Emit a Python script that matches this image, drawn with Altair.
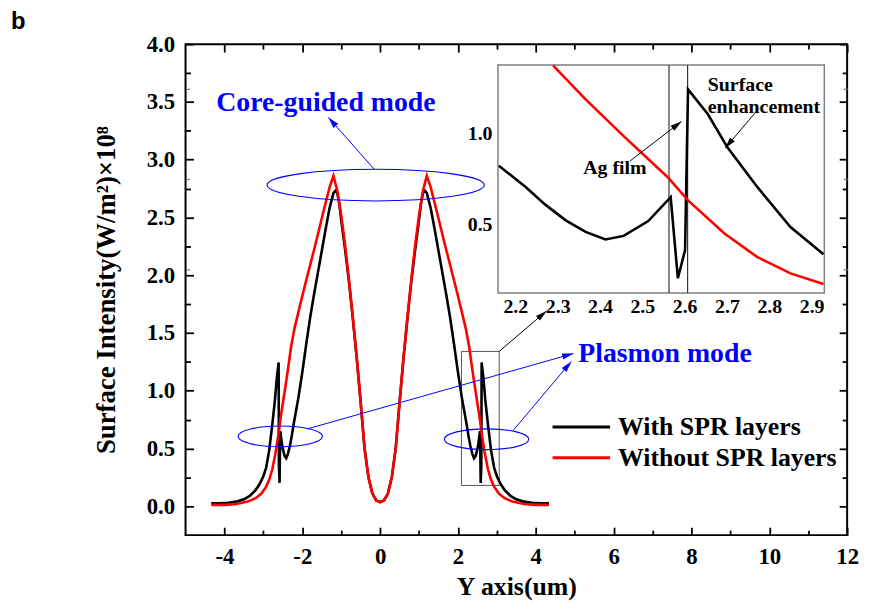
import math
import altair as alt
import pandas as pd

# ---------------- data ----------------
SERIES = ["With SPR layers", "Without SPR layers"]
COLORS = ["#000000", "#ff0000"]

WITH_X = [-4.34, -4.1, -3.9, -3.7, -3.5, -3.35, -3.2, -3.1, -3.0, -2.928, -2.85, -2.772,
          -2.701, -2.655, -2.608, -2.601, -2.584, -2.567, -2.514, -2.456, -2.413, -2.366,
          -2.319, -2.27, -2.225, -2.161, -2.1, -2.05, -2.0, -1.9, -1.8, -1.7, -1.6, -1.5,
          -1.4, -1.3, -1.2, -1.15, -1.1, -1.05, -1.0, -0.9, -0.8, -0.7, -0.6, -0.5, -0.4,
          -0.3, -0.2, -0.1,
          0.0, 0.1, 0.2, 0.3, 0.4, 0.5, 0.6, 0.7, 0.8, 0.9, 1.0, 1.05, 1.1, 1.15, 1.2, 1.3,
          1.4, 1.5, 1.6, 1.7, 1.8, 1.9, 2.0, 2.05, 2.1, 2.161, 2.225, 2.27, 2.319, 2.366,
          2.413, 2.456, 2.514, 2.567, 2.584, 2.601, 2.608, 2.655, 2.701, 2.772, 2.85, 2.928,
          3.0, 3.1, 3.2, 3.35, 3.5, 3.7, 3.9, 4.1, 4.34]
WITH_Y = [0.025, 0.025, 0.03, 0.04, 0.06, 0.09, 0.14, 0.19, 0.26, 0.335, 0.485, 0.705,
          0.925, 1.108, 1.245, 0.357, 0.202, 0.65, 0.518, 0.436, 0.416, 0.458,
          0.522, 0.61, 0.705, 0.824, 0.94, 1.05, 1.16, 1.40, 1.63, 1.83, 2.02, 2.21,
          2.40, 2.58, 2.71, 2.73, 2.71, 2.62, 2.48, 2.22, 1.94, 1.62, 1.28, 0.9, 0.5,
          0.25, 0.11, 0.05,
          0.035, 0.05, 0.11, 0.25, 0.5, 0.9, 1.28, 1.62, 1.94, 2.22, 2.48, 2.62, 2.71, 2.73, 2.71, 2.58,
          2.40, 2.21, 2.02, 1.83, 1.63, 1.40, 1.16, 1.05, 0.94, 0.824, 0.705, 0.61, 0.522, 0.458,
          0.416, 0.436, 0.518, 0.65, 0.202, 0.357, 1.245, 1.108, 0.925, 0.705, 0.485, 0.335,
          0.26, 0.19, 0.14, 0.09, 0.06, 0.04, 0.03, 0.025, 0.025]

WITHOUT_X = [-4.34, -4.0, -3.7, -3.4, -3.2, -3.05, -2.928, -2.85, -2.771, -2.694, -2.608,
             -2.56, -2.459, -2.366, -2.289, -2.2, -2.1, -2.0, -1.85, -1.66, -1.45, -1.3,
             -1.2, -1.1, -1.0, -0.9, -0.8, -0.7, -0.6, -0.5, -0.4, -0.3, -0.2, -0.1,
             0.0, 0.1, 0.2, 0.3, 0.4, 0.5, 0.6, 0.7, 0.8, 0.9, 1.0, 1.1, 1.2, 1.3, 1.45,
             1.66, 1.85, 2.0, 2.1, 2.2, 2.289, 2.366, 2.459, 2.56, 2.608, 2.694, 2.771,
             2.85, 2.928, 3.05, 3.2, 3.4, 3.7, 4.0, 4.34]
WITHOUT_Y = [0.012, 0.012, 0.02, 0.04, 0.07, 0.11, 0.17, 0.229, 0.32, 0.449, 0.632,
             0.76, 0.98, 1.19, 1.378, 1.54, 1.68, 1.82, 2.02, 2.27, 2.56, 2.76,
             2.86, 2.73, 2.52, 2.26, 1.96, 1.63, 1.28, 0.9, 0.5, 0.25, 0.11, 0.05,
             0.035, 0.05, 0.11, 0.25, 0.5, 0.9, 1.28, 1.63, 1.96, 2.26, 2.52, 2.73, 2.86, 2.76, 2.56,
             2.27, 2.02, 1.82, 1.68, 1.54, 1.378, 1.19, 0.98, 0.76, 0.632, 0.449, 0.32,
             0.229, 0.17, 0.11, 0.07, 0.04, 0.02, 0.012, 0.012]

# axis ticks
XMAJ = [-4, -2, 0, 2, 4, 6, 8, 10, 12]
XMIN = [-3, -1, 1, 3, 5, 7, 9, 11]
YMAJ = [0.0, 0.5, 1.0, 1.5, 2.0, 2.5, 3.0, 3.5, 4.0]
YMIN = [0.25, 0.75, 1.25, 1.75, 2.25, 2.75, 3.25, 3.75]
IXMAJ = [2.2, 2.3, 2.4, 2.5, 2.6, 2.7, 2.8, 2.9]
IYMAJ = [0.5, 1.0]
IYMIN = [0.25, 0.75, 1.25]

# inset film boundaries
FILM_X = [2.563, 2.607]

# annotations (main-plot data coordinates)
ANN_BLUE_TEXT = ["Core-guided mode", "Plasmon mode"]
ANN_BLUE_X = [-4.21, 5.09]
ANN_BLUE_Y = [3.486, 1.314]
ANN_BLACK_TEXT = ["Ag film", "Surface", "enhancement"]
ANN_BLACK_X = [5.22, 8.42, 8.42]
ANN_BLACK_Y = [2.928, 3.649, 3.452]

ARROW_TAIL_X = [-0.157, -1.865, 3.411, 3.054, 6.418, 9.732]
ARROW_TAIL_Y = [2.919, 0.670, 0.653, 1.339, 2.988, 3.443]
ARROW_HEAD_X = [-1.33, 4.966, 4.915, 4.277, 7.744, 8.865]
ARROW_HEAD_Y = [3.366, 1.322, 1.254, 1.691, 3.331, 3.10]
ARROW_COLOR = ["#0000ff", "#0000ff", "#0000ff", "#000000", "#000000", "#000000"]

ELL_CORE = (-0.115, 2.78)
ELL_PLASMON_X = [-2.566, 2.735]
ELL_PLASMON_Y = [0.605, 0.580]

ZOOM_BOX = (2.09, 3.06, 0.18, 1.34)

# ---------------- geometry / scales ----------------
W, H = 667, 495
XD = [-5, 12]
YD = [-0.25, 4.0]
IXD = [2.159, 2.93]
IYD = [0.12, 1.38]
IXR = [315, 644]
IYR = [251, 21]

SERIF = "Liberation Serif"
BLUE = "#0000ff"


def px(x):
    return (x - XD[0]) / (XD[1] - XD[0]) * W


def py(y):
    return (YD[1] - y) / (YD[1] - YD[0]) * H


sx = alt.Scale(domain=XD, nice=False, zero=False)
sy = alt.Scale(domain=YD, nice=False, zero=False)
isx = alt.Scale(domain=IXD, range=IXR, nice=False, zero=False)
isy = alt.Scale(domain=IYD, range=IYR, nice=False, zero=False)


def tick_axis(values, size, offset, orient, width=1.8, color="black"):
    return alt.Axis(values=values, tickSize=size, offset=offset, orient=orient,
                    domain=False, labels=False, grid=False, title=None,
                    tickWidth=width, tickColor=color)


# ---------------- dataframes ----------------
df_with = pd.DataFrame({"x": WITH_X, "y": WITH_Y})
df_without = pd.DataFrame({"x": WITHOUT_X, "y": WITHOUT_Y})

# ---------------- main layers ----------------
black_main = alt.Chart(df_with).mark_line(color="black", strokeWidth=2.6).encode(
    x=alt.X("x:Q", scale=sx, axis=alt.Axis(
        values=XMAJ, tickSize=8, offset=-8, orient="bottom", domain=False, grid=False,
        tickWidth=1.8, tickColor="black", labelFont=SERIF, labelFontSize=23,
        labelFontWeight="bold", labelColor="black", labelPadding=11, labelFlush=False,
        labelExpr="'' + datum.value",
        title="Y axis(um)", titleFont=SERIF, titleFontSize=26, titleFontWeight="bold",
        titleColor="black", titlePadding=5)),
    y=alt.Y("y:Q", scale=sy, axis=alt.Axis(
        values=YMAJ, tickSize=8, offset=-8, orient="left", domain=False, grid=False,
        tickWidth=1.8, tickColor="black", labelFont=SERIF, labelFontSize=23,
        labelFontWeight="bold", labelColor="black", labelPadding=11, format=".1f",
        title="Surface Intensity(W/m²)×10⁸", titleFont=SERIF, titleFontSize=27,
        titleFontWeight="bold", titleColor="black", titlePadding=26)),
)

red_main = alt.Chart(df_without).mark_line(color="#ff0000", strokeWidth=2.6).encode(
    x=alt.X("x:Q", scale=sx, axis=None),
    y=alt.Y("y:Q", scale=sy, axis=None),
)

# zoom box in main plot (carries minor bottom/left ticks)
box_df = pd.DataFrame({"x": [ZOOM_BOX[0]], "x2": [ZOOM_BOX[1]],
                       "y": [ZOOM_BOX[2]], "y2": [ZOOM_BOX[3]]})
zoom_box = alt.Chart(box_df).mark_rect(fillOpacity=0, stroke="#555555", strokeWidth=1).encode(
    x=alt.X("x:Q", scale=sx, axis=tick_axis(XMIN, 5, -5, "bottom")),
    x2="x2:Q",
    y=alt.Y("y:Q", scale=sy, axis=tick_axis(YMIN, 5, -5, "left")),
    y2="y2:Q",
)

# arrows
arrow_rows = []
for tx, ty, hx, hy, c in zip(ARROW_TAIL_X, ARROW_TAIL_Y, ARROW_HEAD_X, ARROW_HEAD_Y, ARROW_COLOR):
    ang = math.degrees(math.atan2(px(hx) - px(tx), -(py(hy) - py(ty)))) % 360
    arrow_rows.append({"x": tx, "y": ty, "x2": hx, "y2": hy, "angle": ang, "color": c})
arrow_df = pd.DataFrame(arrow_rows)

arrow_lines = alt.Chart(arrow_df).mark_rule(strokeWidth=1).encode(
    x=alt.X("x:Q", scale=sx, axis=tick_axis(XMAJ, 8, -8, "top")),
    x2="x2:Q",
    y=alt.Y("y:Q", scale=sy, axis=tick_axis(YMAJ, 8, -8, "right")),
    y2="y2:Q",
    color=alt.Color("color:N", scale=None),
)

arrow_heads = alt.Chart(arrow_df).mark_point(
    shape="M 0 0 L 0.55 2 L -0.55 2 Z", filled=True, size=130, opacity=1).encode(
    x=alt.X("x2:Q", scale=sx, axis=None),
    y=alt.Y("y2:Q", scale=sy, axis=None),
    angle=alt.Angle("angle:Q", scale=None),
    color=alt.Color("color:N", scale=None),
)


def ellipse_path(r):
    k = 0.5523
    return (f"M 1 0 C 1 {r*k:.4f} {k} {r:.4f} 0 {r:.4f} "
            f"C {-k} {r:.4f} -1 {r*k:.4f} -1 0 "
            f"C -1 {-r*k:.4f} {-k} {-r:.4f} 0 {-r:.4f} "
            f"C {k} {-r:.4f} 1 {-r*k:.4f} 1 0 Z")


core_df = pd.DataFrame({"x": [ELL_CORE[0]], "y": [ELL_CORE[1]]})
core_ell = alt.Chart(core_df).mark_point(
    shape=ellipse_path(0.146), size=219 ** 2, filled=False, color=BLUE,
    strokeWidth=1.1, opacity=1).encode(
    x=alt.X("x:Q", scale=sx, axis=None),
    y=alt.Y("y:Q", scale=sy, axis=None),
)

pl_df = pd.DataFrame({"x": ELL_PLASMON_X, "y": ELL_PLASMON_Y})
pl_ell = alt.Chart(pl_df).mark_point(
    shape=ellipse_path(0.247), size=85 ** 2, filled=False, color=BLUE,
    strokeWidth=1.1, opacity=1).encode(
    x=alt.X("x:Q", scale=sx, axis=None),
    y=alt.Y("y:Q", scale=sy, axis=None),
)

blue_text_df = pd.DataFrame({"x": ANN_BLUE_X, "y": ANN_BLUE_Y, "t": ANN_BLUE_TEXT})
blue_text = alt.Chart(blue_text_df).mark_text(
    font=SERIF, fontSize=28, fontWeight="bold", color=BLUE, align="left",
    baseline="middle").encode(
    x=alt.X("x:Q", scale=sx, axis=tick_axis(XMIN, 5, -5, "top")),
    y=alt.Y("y:Q", scale=sy, axis=tick_axis(YMIN, 5, -5, "right")),
    text="t:N",
)

black_text_df = pd.DataFrame({"x": ANN_BLACK_X, "y": ANN_BLACK_Y, "t": ANN_BLACK_TEXT})
black_text = alt.Chart(black_text_df).mark_text(
    font=SERIF, fontSize=20, fontWeight="bold", color="black", align="left",
    baseline="middle").encode(
    x=alt.X("x:Q", scale=sx, axis=None),
    y=alt.Y("y:Q", scale=sy, axis=None),
    text="t:N",
)

# ---------------- inset ----------------
frame_df = pd.DataFrame({"x": [IXD[0]], "x2": [IXD[1]], "y": [IYD[0]], "y2": [IYD[1]]})
inset_frame = alt.Chart(frame_df).mark_rect(
    fill="white", stroke="#808080", strokeWidth=1.5).encode(
    x=alt.X("x:Q", scale=isx, axis=None),
    x2="x2:Q",
    y=alt.Y("y:Q", scale=isy, axis=tick_axis(IYMIN, 4, -4, "right", 1.3, "#808080")),
    y2="y2:Q",
)

film_df = pd.DataFrame({"x": FILM_X, "y": [IYD[0]] * 2, "y2": [IYD[1]] * 2})
film_lines = alt.Chart(film_df).mark_rule(color="#333333", strokeWidth=1.2).encode(
    x=alt.X("x:Q", scale=isx, axis=None),
    y=alt.Y("y:Q", scale=isy, axis=tick_axis(IYMIN, 4, -4, "left", 1.3, "#808080")),
    y2="y2:Q",
)

inset_filter = ((alt.datum.x >= IXD[0]) & (alt.datum.x <= IXD[1]) &
                (alt.datum.y <= IYD[1] + 0.005))

inset_black = alt.Chart(df_with).transform_filter(inset_filter).mark_line(
    color="black", strokeWidth=2.6).encode(
    x=alt.X("x:Q", scale=isx, axis=alt.Axis(
        values=IXMAJ, tickSize=6, offset=-250, orient="bottom", domain=False, grid=False,
        tickWidth=1.3, tickColor="#808080", labelFont=SERIF, labelFontSize=20,
        labelFontWeight="bold", labelColor="black", labelPadding=4, labelFlush=False,
        format=".1f", title=None)),
    y=alt.Y("y:Q", scale=isy, axis=alt.Axis(
        values=IYMAJ, tickSize=6, offset=-321, orient="left", domain=False, grid=False,
        tickWidth=1.3, tickColor="#808080", labelFont=SERIF, labelFontSize=20,
        labelFontWeight="bold", labelColor="black", labelPadding=6, format=".1f",
        title=None)),
)

inset_red = alt.Chart(df_without).transform_filter(inset_filter).mark_line(
    color="#ff0000", strokeWidth=2.6).encode(
    x=alt.X("x:Q", scale=isx, axis=tick_axis(IXMAJ, 6, -27, "top", 1.3, "#808080")),
    y=alt.Y("y:Q", scale=isy, axis=tick_axis(IYMAJ, 6, -29, "right", 1.3, "#808080")),
)

# ---------------- legend ----------------
leg_df = pd.DataFrame({"label": SERIES})
leg_y = alt.Y("label:N", scale=alt.Scale(type="point", domain=SERIES, range=[386, 417],
                                          padding=0), axis=None)
leg_color = alt.Color("label:N", scale=alt.Scale(domain=SERIES, range=COLORS), legend=None)
leg_lines = alt.Chart(leg_df).mark_rule(strokeWidth=2.8).encode(
    x=alt.value(370), x2=alt.value(428), y=leg_y, color=leg_color)
leg_text = alt.Chart(leg_df).mark_text(
    font=SERIF, fontSize=26, fontWeight="bold", color="black", align="left",
    baseline="middle").encode(x=alt.value(436), y=leg_y, text="label:N")

# panel letter
b_df = pd.DataFrame({"t": ["b"]})
b_text = alt.Chart(b_df).mark_text(
    font="Liberation Sans", fontSize=24, fontWeight="bold", color="black",
    align="left", baseline="middle").encode(
    x=alt.value(-176), y=alt.value(-22), text="t:N")

chart = alt.layer(
    inset_frame, film_lines, inset_black, inset_red,
    zoom_box, black_main, red_main, core_ell, pl_ell, arrow_lines, arrow_heads,
    blue_text, black_text,
    leg_lines, leg_text, b_text,
).resolve_scale(
    x="independent", y="independent", color="independent"
).resolve_axis(
    x="independent", y="independent"
).properties(
    width=W, height=H,
    autosize=alt.AutoSizeParams(type="none"),
    padding={"left": 179, "top": 34, "right": 16, "bottom": 68},
    background="white",
).configure_view(stroke="black", strokeWidth=2)

chart.save("out.html", embed_options={"renderer": "svg", "actions": False})
